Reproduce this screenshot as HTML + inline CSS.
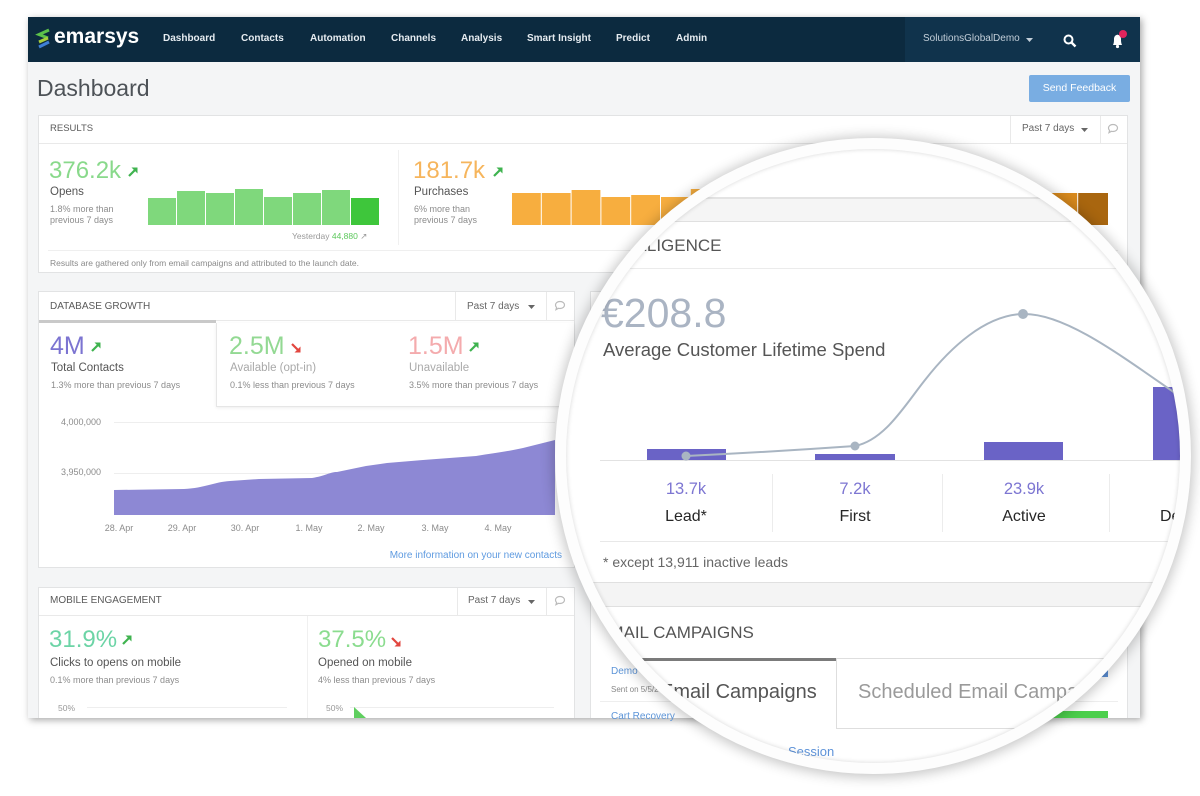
<!DOCTYPE html>
<html><head><meta charset="utf-8"><style>
*{margin:0;padding:0;box-sizing:border-box}
html,body{width:1200px;height:796px}
body{background:#fff;position:relative;overflow:hidden;font-family:"Liberation Sans",Arial,sans-serif;color:#555}
.a{position:absolute}
.t{position:absolute;white-space:nowrap;line-height:1}
.nav{color:#e6ecf1;font-size:10px;font-weight:bold;top:34px}
.ph{font-size:10px;color:#5a5a5a}
.dd{font-size:10px;color:#666}
.sm{font-size:9px;color:#8c8c8c}
.lb{font-size:11.5px;color:#555}
.hl{position:absolute;height:1px;background:#e9e9e9}
.vl{position:absolute;width:1px;background:#e9e9e9}
.panel{position:absolute;background:#fff;border:1px solid #e2e3e4}
.c{text-align:center}
</style></head><body>

<!-- page frame -->
<div class="a" style="left:28px;top:17px;width:1112px;height:701px;background:#f4f5f6;box-shadow:2px 2px 7px rgba(0,0,0,.35)"></div>

<!-- nav -->
<div class="a" style="left:28px;top:17px;width:1112px;height:45px;background:#0c2a3f"></div>
<div class="a" style="left:905px;top:17px;width:235px;height:45px;background:#10334c"></div>
<svg class="a" style="left:35px;top:27px" width="18" height="22" viewBox="0 0 18 22">
<path d="M14 3 L4 7.5 L13 11" stroke="#5cc24a" stroke-width="3" fill="none"/>
<path d="M13 11 L4 15" stroke="#a9cf3a" stroke-width="3" fill="none"/>
<path d="M14 15 L4 20" stroke="#3f7fd6" stroke-width="3" fill="none"/>
</svg>
<div class="t" style="left:54px;top:26px;font-size:21px;font-weight:bold;color:#fff">emarsys</div>
<div class="t nav" style="left:163px">Dashboard</div>
<div class="t nav" style="left:241px">Contacts</div>
<div class="t nav" style="left:310px">Automation</div>
<div class="t nav" style="left:391px">Channels</div>
<div class="t nav" style="left:461px">Analysis</div>
<div class="t nav" style="left:527px">Smart Insight</div>
<div class="t nav" style="left:616px">Predict</div>
<div class="t nav" style="left:676px">Admin</div>
<div class="t" style="left:923px;top:34px;font-size:10px;color:#c3cfd9">SolutionsGlobalDemo</div>
<svg class="a" style="left:1026px;top:38px" width="7" height="4"><path d="M0 0H7L3.5 4Z" fill="#c3cfd9"/></svg>
<svg class="a" style="left:1063px;top:34px" width="14" height="14"><circle cx="5.5" cy="5.5" r="4" stroke="#fff" stroke-width="2" fill="none"/><path d="M8.5 8.5L12.5 12.5" stroke="#fff" stroke-width="2.4"/></svg>
<svg class="a" style="left:1109px;top:30px" width="20" height="20"><path d="M4 15 C5 13 5 11 5 9 C5 6.5 6.5 5 8.5 4.6 C10.5 5 12 6.5 12 9 C12 11 12 13 13 15 Z" fill="#fff"/><circle cx="8.5" cy="16.5" r="1.6" fill="#fff"/><circle cx="14" cy="4" r="4" fill="#e2245c"/></svg>

<!-- title + button -->
<div class="t" style="left:37px;top:77px;font-size:23px;color:#4d5257">Dashboard</div>
<div class="a" style="left:1029px;top:75px;width:101px;height:27px;background:#79ade2;border-radius:2px;color:#fff;font-size:10.5px;line-height:27px;text-align:center">Send Feedback</div>

<!-- RESULTS -->
<div class="panel" style="left:38px;top:115px;width:1090px;height:158px"></div>
<div class="t ph" style="left:50px;top:124px;font-size:9.5px">RESULTS</div>
<div class="hl" style="left:39px;top:143px;width:1088px"></div>
<div class="vl" style="left:1010px;top:116px;height:27px"></div>
<div class="vl" style="left:1100px;top:116px;height:27px"></div>
<div class="t dd" style="left:1022px;top:124px">Past 7 days</div>
<svg class="a" style="left:1081px;top:128px" width="7" height="4"><path d="M0 0H7L3.5 4Z" fill="#666"/></svg>
<svg class="a" style="left:1107px;top:123px" width="12" height="11"><path d="M6 1.5c2.8 0 4.5 1.6 4.5 3.5S8.8 8.5 6 8.5c-.6 0-1.1-.1-1.6-.2L2 9.6l.6-2C1.9 6.9 1.5 6 1.5 5 1.5 3.1 3.2 1.5 6 1.5z" fill="none" stroke="#bbb" stroke-width="1.2"/></svg>

<div class="t" style="left:49px;top:159px;font-size:24px;color:#89d98b">376.2k</div>
<svg class="a" style="left:127px;top:166px" width="12" height="12"><path d="M2 10 L9.5 2.5" stroke="#3fb34f" stroke-width="2.2"/><path d="M4.5 1.5 H10.5 V7.5 Z" fill="#3fb34f"/></svg>
<div class="t lb" style="left:50px;top:187px">Opens</div>
<div class="t sm" style="left:50px;top:205px">1.8% more than</div>
<div class="t sm" style="left:50px;top:216px">previous 7 days</div>
<svg class="a" style="left:0;top:0" width="400" height="240">
<g fill="#7fd87c">
<rect x="148" y="198" width="28" height="27"/><rect x="177" y="191" width="28" height="34"/><rect x="206" y="193" width="28" height="32"/><rect x="235" y="189" width="28" height="36"/><rect x="264" y="197" width="28" height="28"/><rect x="293" y="193" width="28" height="32"/><rect x="322" y="190" width="28" height="35"/>
</g>
<rect x="351" y="198" width="28" height="27" fill="#3ec63b"/>
</svg>
<div class="t" style="left:292px;top:232px;font-size:8.5px;color:#999">Yesterday <span style="color:#5cc85c">44,880</span> ↗</div>
<div class="vl" style="left:398px;top:150px;height:95px;background:#f0f0f0"></div>

<div class="t" style="left:413px;top:159px;font-size:24px;color:#f6b55c">181.7k</div>
<svg class="a" style="left:492px;top:166px" width="12" height="12"><path d="M2 10 L9.5 2.5" stroke="#3fb34f" stroke-width="2.2"/><path d="M4.5 1.5 H10.5 V7.5 Z" fill="#3fb34f"/></svg>
<div class="t lb" style="left:414px;top:187px">Purchases</div>
<div class="t sm" style="left:414px;top:205px">6% more than</div>
<div class="t sm" style="left:414px;top:216px">previous 7 days</div>
<svg class="a" style="left:0;top:0" width="1200" height="240">
<g fill="#f7ae3f">
<rect x="512" y="193" width="28.8" height="32"/><rect x="541.8" y="193" width="28.8" height="32"/><rect x="571.6" y="190" width="28.8" height="35"/><rect x="601.4" y="197" width="28.8" height="28"/><rect x="631.2" y="195" width="28.8" height="30"/><rect x="661" y="197" width="28.8" height="28"/><rect x="690.8" y="189" width="28.8" height="36"/><rect x="720.6" y="193" width="28.8" height="32"/><rect x="750.4" y="195" width="28.8" height="30"/><rect x="780.2" y="192" width="28.8" height="33"/><rect x="810" y="196" width="28.8" height="29"/><rect x="839.8" y="194" width="28.8" height="31"/><rect x="869.6" y="191" width="28.8" height="34"/><rect x="899.4" y="195" width="28.8" height="30"/><rect x="929.2" y="193" width="28.8" height="32"/><rect x="959" y="196" width="28.8" height="29"/><rect x="988.8" y="192" width="28.8" height="33"/>
</g>
<rect x="1018.6" y="194" width="28.8" height="31" fill="#e99a2a"/>
<rect x="1048.4" y="193" width="28.8" height="32" fill="#d98a1d"/>
<rect x="1078.2" y="193" width="29.8" height="32" fill="#a9660f"/>
</svg>
<div class="t" style="left:1088px;top:232px;font-size:8.5px;color:#999">↗</div>
<div class="hl" style="left:48px;top:250px;width:1070px;background:#efefef"></div>
<div class="t" style="left:50px;top:259px;font-size:8.5px;color:#8a8a8a">Results are gathered only from email campaigns and attributed to the launch date.</div>

<!-- DATABASE GROWTH -->
<div class="panel" style="left:38px;top:291px;width:537px;height:277px"></div>
<div class="t ph" style="left:50px;top:302px">DATABASE GROWTH</div>
<div class="vl" style="left:455px;top:292px;height:28px"></div>
<div class="vl" style="left:546px;top:292px;height:28px"></div>
<div class="t dd" style="left:467px;top:302px">Past 7 days</div>
<svg class="a" style="left:528px;top:305px" width="7" height="4"><path d="M0 0H7L3.5 4Z" fill="#666"/></svg>
<svg class="a" style="left:554px;top:300px" width="12" height="11"><path d="M6 1.5c2.8 0 4.5 1.6 4.5 3.5S8.8 8.5 6 8.5c-.6 0-1.1-.1-1.6-.2L2 9.6l.6-2C1.9 6.9 1.5 6 1.5 5 1.5 3.1 3.2 1.5 6 1.5z" fill="none" stroke="#bbb" stroke-width="1.2"/></svg>
<div class="hl" style="left:39px;top:320px;width:535px"></div>
<div class="a" style="left:39px;top:320px;width:177px;height:3px;background:#c9c9c9"></div>
<div class="a" style="left:216px;top:323px;width:358px;height:84px;border-left:1px solid #e6e6e6;border-bottom:1px solid #e6e6e6;box-shadow:0 1px 3px rgba(0,0,0,.07);background:#fff"></div>

<div class="t" style="left:50px;top:334px;font-size:25px;color:#7c74d1">4M</div>
<svg class="a" style="left:90px;top:341px" width="12" height="12"><path d="M2 10 L9.5 2.5" stroke="#3fb34f" stroke-width="2.2"/><path d="M4.5 1.5 H10.5 V7.5 Z" fill="#3fb34f"/></svg>
<div class="t lb" style="left:51px;top:363px">Total Contacts</div>
<div class="t sm" style="left:51px;top:381px">1.3% more than previous 7 days</div>

<div class="t" style="left:229px;top:334px;font-size:25px;color:#93d993">2.5M</div>
<svg class="a" style="left:290px;top:342px" width="12" height="12"><path d="M2 2 L9.5 9.5" stroke="#e2463f" stroke-width="2.2"/><path d="M10.5 4.5 V10.5 H4.5 Z" fill="#e2463f"/></svg>
<div class="t lb" style="left:230px;top:363px;color:#a9a9a9">Available (opt-in)</div>
<div class="t sm" style="left:230px;top:381px">0.1% less than previous 7 days</div>

<div class="t" style="left:408px;top:334px;font-size:25px;color:#f4abad">1.5M</div>
<svg class="a" style="left:468px;top:341px" width="12" height="12"><path d="M2 10 L9.5 2.5" stroke="#3fb34f" stroke-width="2.2"/><path d="M4.5 1.5 H10.5 V7.5 Z" fill="#3fb34f"/></svg>
<div class="t lb" style="left:409px;top:363px;color:#aaa">Unavailable</div>
<div class="t sm" style="left:409px;top:381px">3.5% more than previous 7 days</div>

<div class="t sm" style="left:40px;top:418px;width:61px;text-align:right">4,000,000</div>
<div class="t sm" style="left:40px;top:468px;width:61px;text-align:right">3,950,000</div>
<svg class="a" style="left:0;top:0" width="600" height="540">
<line x1="114" y1="422.5" x2="555" y2="422.5" stroke="#eee"/>
<line x1="114" y1="473.5" x2="555" y2="473.5" stroke="#eee"/>
<path d="M114,515 L114,490 L184,489 C205,488 214,482 230,481 L259,479 L312,478 C325,476 330,472 337,472 L366,466 L387,463 L423,460 L476,456 C495,453 510,451 523,448 L555,440 L555,515 Z" fill="#8d88d4"/>
</svg>
<div class="t sm c" style="left:94px;top:524px;width:50px">28. Apr</div>
<div class="t sm c" style="left:157px;top:524px;width:50px">29. Apr</div>
<div class="t sm c" style="left:220px;top:524px;width:50px">30. Apr</div>
<div class="t sm c" style="left:284px;top:524px;width:50px">1. May</div>
<div class="t sm c" style="left:346px;top:524px;width:50px">2. May</div>
<div class="t sm c" style="left:410px;top:524px;width:50px">3. May</div>
<div class="t sm c" style="left:473px;top:524px;width:50px">4. May</div>
<div class="t" style="left:362px;top:551px;width:200px;text-align:right;font-size:10px;color:#5f9be0">More information on your new contacts</div>

<!-- MOBILE ENGAGEMENT -->
<div class="panel" style="left:38px;top:587px;width:537px;height:131px;border-bottom:none"></div>
<div class="t ph" style="left:50px;top:596px">MOBILE ENGAGEMENT</div>
<div class="vl" style="left:457px;top:588px;height:27px"></div>
<div class="vl" style="left:546px;top:588px;height:27px"></div>
<div class="t dd" style="left:468px;top:596px">Past 7 days</div>
<svg class="a" style="left:528px;top:600px" width="7" height="4"><path d="M0 0H7L3.5 4Z" fill="#666"/></svg>
<svg class="a" style="left:554px;top:595px" width="12" height="11"><path d="M6 1.5c2.8 0 4.5 1.6 4.5 3.5S8.8 8.5 6 8.5c-.6 0-1.1-.1-1.6-.2L2 9.6l.6-2C1.9 6.9 1.5 6 1.5 5 1.5 3.1 3.2 1.5 6 1.5z" fill="none" stroke="#bbb" stroke-width="1.2"/></svg>
<div class="hl" style="left:39px;top:615px;width:535px"></div>
<div class="t" style="left:49px;top:628px;font-size:24px;color:#6cd4a6">31.9%</div>
<svg class="a" style="left:121px;top:634px" width="12" height="12"><path d="M2 10 L9.5 2.5" stroke="#3fb34f" stroke-width="2.2"/><path d="M4.5 1.5 H10.5 V7.5 Z" fill="#3fb34f"/></svg>
<div class="t lb" style="left:50px;top:658px">Clicks to opens on mobile</div>
<div class="t sm" style="left:50px;top:676px">0.1% more than previous 7 days</div>
<div class="vl" style="left:307px;top:616px;height:102px;background:#f0f0f0"></div>
<div class="t" style="left:318px;top:628px;font-size:24px;color:#8bdc8f">37.5%</div>
<svg class="a" style="left:390px;top:636px" width="12" height="12"><path d="M2 2 L9.5 9.5" stroke="#e2463f" stroke-width="2.2"/><path d="M10.5 4.5 V10.5 H4.5 Z" fill="#e2463f"/></svg>
<div class="t lb" style="left:318px;top:658px">Opened on mobile</div>
<div class="t sm" style="left:318px;top:676px">4% less than previous 7 days</div>
<div class="t" style="left:58px;top:704px;font-size:8.5px;color:#999">50%</div>
<div class="hl" style="left:87px;top:707px;width:200px;background:#eee"></div>
<div class="t" style="left:326px;top:704px;font-size:8.5px;color:#999">50%</div>
<div class="hl" style="left:350px;top:707px;width:204px;background:#eee"></div>
<svg class="a" style="left:352px;top:706px" width="16" height="12"><path d="M2 1 L14 12 L2 12 Z" fill="#5fcf5f"/></svg>

<!-- right column (unmagnified, mostly under the lens) -->
<div class="panel" style="left:590px;top:291px;width:538px;height:277px"></div>
<div class="panel" style="left:590px;top:587px;width:538px;height:131px;border-bottom:none"></div>
<div class="t" style="left:611px;top:667px;font-size:10px;color:#5d95d8">Demo</div>
<div class="t" style="left:611px;top:686px;font-size:8px;color:#888">Sent on 5/5/2017</div>
<div class="hl" style="left:600px;top:701px;width:518px;background:#eee"></div>
<div class="t" style="left:611px;top:712px;font-size:10px;color:#5d95d8">Cart Recovery</div>
<div class="a" style="left:1088px;top:668px;width:20px;height:9px;background:#5b8fd5"></div>
<div class="a" style="left:1048px;top:711px;width:60px;height:7px;background:#4ccf4c"></div>

<!-- magnifier lens -->
<div class="a" style="left:555px;top:138px;width:636px;height:636px;border-radius:50%;background:#fdfdfd;box-shadow:0 1px 13px 2px rgba(0,0,0,.24)"></div>
<div class="a" style="left:566px;top:149px;width:614px;height:614px;border-radius:50%;overflow:hidden;background:#fff">
<div class="a" style="left:-566px;top:-149px;width:1200px;height:796px">
  <div class="a" style="left:550px;top:197px;width:650px;height:2px;background:#e3e3e3"></div>
  <div class="a" style="left:550px;top:199px;width:650px;height:22px;background:#f5f5f5"></div>
  <div class="hl" style="left:550px;top:221px;width:650px;background:#e0e0e0"></div>
  <div class="t" style="left:497px;top:237px;font-size:17px;color:#555">CUSTOMER INTELLIGENCE</div>
  <div class="hl" style="left:550px;top:268px;width:650px;background:#ebebeb"></div>
  <div class="t" style="left:601px;top:293px;font-size:41px;color:#aab4c3">€208.8</div>
  <div class="t" style="left:603px;top:341px;font-size:18.5px;color:#555">Average Customer Lifetime Spend</div>
  <svg class="a" style="left:0;top:0" width="1200" height="796">
    <line x1="600" y1="460.5" x2="1200" y2="460.5" stroke="#e2e2e2"/>
    <rect x="647" y="449" width="79" height="11" fill="#6a63c6"/>
    <rect x="815" y="454" width="80" height="6" fill="#6a63c6"/>
    <rect x="984" y="442" width="79" height="18" fill="#6a63c6"/>
    <rect x="1153" y="387" width="79" height="73" fill="#6a63c6"/>
    <path d="M686,456 Q770,452 855,446 C885,440 905,405 925,380 C950,348 985,315 1023,314 C1065,313 1120,355 1185,400" fill="none" stroke="#a9b5c2" stroke-width="2"/>
    <circle cx="686" cy="456" r="4.5" fill="#a9b5c2"/>
    <circle cx="855" cy="446" r="4.5" fill="#a9b5c2"/>
    <circle cx="1023" cy="314" r="5" fill="#a9b5c2"/>
    <line x1="772.5" y1="474" x2="772.5" y2="532" stroke="#ececec"/>
    <line x1="942.5" y1="474" x2="942.5" y2="532" stroke="#ececec"/>
    <line x1="1109.5" y1="474" x2="1109.5" y2="532" stroke="#ececec"/>
  </svg>
  <div class="t c" style="left:626px;top:481px;width:120px;font-size:16.5px;color:#7d76d2">13.7k</div>
  <div class="t c" style="left:626px;top:509px;width:120px;font-size:16px;color:#262626">Lead*</div>
  <div class="t c" style="left:795px;top:481px;width:120px;font-size:16.5px;color:#7d76d2">7.2k</div>
  <div class="t c" style="left:795px;top:509px;width:120px;font-size:16px;color:#262626">First</div>
  <div class="t c" style="left:964px;top:481px;width:120px;font-size:16.5px;color:#7d76d2">23.9k</div>
  <div class="t c" style="left:964px;top:509px;width:120px;font-size:16px;color:#262626">Active</div>
  <div class="t" style="left:1160px;top:509px;font-size:16px;color:#262626">Defecting</div>
  <div class="hl" style="left:600px;top:541px;width:600px;background:#e8e8e8"></div>
  <div class="t" style="left:603px;top:555px;font-size:14px;color:#666">* except 13,911 inactive leads</div>
  <div class="hl" style="left:550px;top:582px;width:650px;background:#e0e0e0"></div>
  <div class="a" style="left:550px;top:583px;width:650px;height:23px;background:#f4f4f4"></div>
  <div class="hl" style="left:550px;top:606px;width:650px;background:#e0e0e0"></div>
  <div class="t" style="left:598px;top:624px;font-size:17px;color:#555">EMAIL CAMPAIGNS</div>
  <div class="a" style="left:600px;top:658px;width:236px;height:3px;background:#7b7b7b"></div>
  <div class="t" style="left:660px;top:682px;font-size:20px;color:#555">Email Campaigns</div>
  <div class="a" style="left:836px;top:658px;width:320px;height:71px;border:1px solid #dedede;background:#fff"></div>
  <div class="t" style="left:858px;top:682px;font-size:20px;color:#9a9a9a">Scheduled Email Campaigns</div>
  <div class="t" style="left:788px;top:745px;font-size:13px;color:#5e93d9">Session</div>
</div>
</div>
<div class="a" style="left:566px;top:149px;width:614px;height:614px;border-radius:50%;box-shadow:inset 0 0 5px rgba(0,0,0,.16)"></div>

</body></html>
